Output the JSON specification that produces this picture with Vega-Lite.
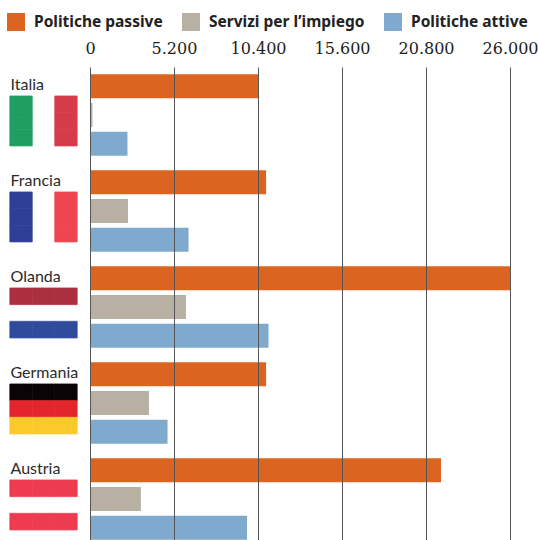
{
  "$schema": "https://vega.github.io/schema/vega-lite/v6.json",
  "autosize": "none",
  "padding": {"left": 90, "top": 60, "right": 28, "bottom": 0},
  "width": 420,
  "height": 480,
  "background": "white",
  "datasets": {
    "spesa": [
      {"paese": "Italia", "voce": "Politiche passive", "valore": 10400},
      {"paese": "Italia", "voce": "Servizi per l’impiego", "valore": 150},
      {"paese": "Italia", "voce": "Politiche attive", "valore": 2320},
      {"paese": "Francia", "voce": "Politiche passive", "valore": 10900},
      {"paese": "Francia", "voce": "Servizi per l’impiego", "valore": 2350},
      {"paese": "Francia", "voce": "Politiche attive", "valore": 6100},
      {"paese": "Olanda", "voce": "Politiche passive", "valore": 26030},
      {"paese": "Olanda", "voce": "Servizi per l’impiego", "valore": 5940},
      {"paese": "Olanda", "voce": "Politiche attive", "valore": 11050},
      {"paese": "Germania", "voce": "Politiche passive", "valore": 10900},
      {"paese": "Germania", "voce": "Servizi per l’impiego", "valore": 3650},
      {"paese": "Germania", "voce": "Politiche attive", "valore": 4800},
      {"paese": "Austria", "voce": "Politiche passive", "valore": 21730},
      {"paese": "Austria", "voce": "Servizi per l’impiego", "valore": 3150},
      {"paese": "Austria", "voce": "Politiche attive", "valore": 9720}
    ],
    "bandiere": [
      {"paese": "Italia", "colonna": "a", "fascia": "1", "tinta": "verde IT"},
      {"paese": "Italia", "colonna": "a", "fascia": "2", "tinta": "verde IT"},
      {"paese": "Italia", "colonna": "a", "fascia": "3", "tinta": "verde IT"},
      {"paese": "Italia", "colonna": "c", "fascia": "1", "tinta": "rosso IT"},
      {"paese": "Italia", "colonna": "c", "fascia": "2", "tinta": "rosso IT"},
      {"paese": "Italia", "colonna": "c", "fascia": "3", "tinta": "rosso IT"},
      {"paese": "Francia", "colonna": "a", "fascia": "1", "tinta": "blu FR"},
      {"paese": "Francia", "colonna": "a", "fascia": "2", "tinta": "blu FR"},
      {"paese": "Francia", "colonna": "a", "fascia": "3", "tinta": "blu FR"},
      {"paese": "Francia", "colonna": "c", "fascia": "1", "tinta": "rosso FR"},
      {"paese": "Francia", "colonna": "c", "fascia": "2", "tinta": "rosso FR"},
      {"paese": "Francia", "colonna": "c", "fascia": "3", "tinta": "rosso FR"},
      {"paese": "Olanda", "colonna": "a", "fascia": "1", "tinta": "rosso NL"},
      {"paese": "Olanda", "colonna": "b", "fascia": "1", "tinta": "rosso NL"},
      {"paese": "Olanda", "colonna": "c", "fascia": "1", "tinta": "rosso NL"},
      {"paese": "Olanda", "colonna": "a", "fascia": "3", "tinta": "blu NL"},
      {"paese": "Olanda", "colonna": "b", "fascia": "3", "tinta": "blu NL"},
      {"paese": "Olanda", "colonna": "c", "fascia": "3", "tinta": "blu NL"},
      {"paese": "Germania", "colonna": "a", "fascia": "1", "tinta": "nero DE"},
      {"paese": "Germania", "colonna": "b", "fascia": "1", "tinta": "nero DE"},
      {"paese": "Germania", "colonna": "c", "fascia": "1", "tinta": "nero DE"},
      {"paese": "Germania", "colonna": "a", "fascia": "2", "tinta": "rosso DE"},
      {"paese": "Germania", "colonna": "b", "fascia": "2", "tinta": "rosso DE"},
      {"paese": "Germania", "colonna": "c", "fascia": "2", "tinta": "rosso DE"},
      {"paese": "Germania", "colonna": "a", "fascia": "3", "tinta": "giallo DE"},
      {"paese": "Germania", "colonna": "b", "fascia": "3", "tinta": "giallo DE"},
      {"paese": "Germania", "colonna": "c", "fascia": "3", "tinta": "giallo DE"},
      {"paese": "Austria", "colonna": "a", "fascia": "1", "tinta": "rosso AT"},
      {"paese": "Austria", "colonna": "b", "fascia": "1", "tinta": "rosso AT"},
      {"paese": "Austria", "colonna": "c", "fascia": "1", "tinta": "rosso AT"},
      {"paese": "Austria", "colonna": "a", "fascia": "3", "tinta": "rosso AT"},
      {"paese": "Austria", "colonna": "b", "fascia": "3", "tinta": "rosso AT"},
      {"paese": "Austria", "colonna": "c", "fascia": "3", "tinta": "rosso AT"}
    ]
  },
  "layer": [
    {
      "data": {"name": "bandiere"},
      "mark": {"type": "bar", "clip": false, "strokeWidth": 0.7},
      "encoding": {
        "x": {
          "field": "colonna",
          "type": "nominal",
          "axis": null,
          "scale": {"domain": ["a", "b", "c"], "range": [-80.2, -12.8], "padding": 0}
        },
        "y": {
          "field": "paese",
          "type": "nominal",
          "sort": ["Italia", "Francia", "Olanda", "Germania", "Austria"],
          "scale": {"domain": ["Italia", "Francia", "Olanda", "Germania", "Austria"], "range": [7, 487], "padding": 0},
          "title": null,
          "axis": {
            "domain": false,
            "ticks": false,
            "orient": "left",
            "labelAlign": "left",
            "labelPadding": 80,
            "labelOffset": -30,
            "labelFont": "Lato",
            "labelFontSize": 16,
            "labelColor": "#2a2a2a"
          }
        },
        "yOffset": {
          "field": "fascia",
          "type": "nominal",
          "scale": {"domain": ["nome", "1", "2", "3", "spazio"], "paddingInner": 0, "paddingOuter": 0.38, "align": 0.97}
        },
        "color": {
          "field": "tinta",
          "type": "nominal",
          "legend": null,
          "scale": {
            "domain": ["verde IT", "rosso IT", "blu FR", "rosso FR", "rosso NL", "blu NL", "nero DE", "rosso DE", "giallo DE", "rosso AT"],
            "range": ["#1f9e62", "#d43c4b", "#2f3f96", "#ef4451", "#ab2f3e", "#2f4b9c", "#0a0406", "#e4262c", "#fcc92b", "#ee3b4f"]
          }
        },
        "stroke": {
          "field": "tinta",
          "type": "nominal",
          "legend": null,
          "scale": {
            "domain": ["verde IT", "rosso IT", "blu FR", "rosso FR", "rosso NL", "blu NL", "nero DE", "rosso DE", "giallo DE", "rosso AT"],
            "range": ["#1f9e62", "#d43c4b", "#2f3f96", "#ef4451", "#ab2f3e", "#2f4b9c", "#0a0406", "#e4262c", "#fcc92b", "#ee3b4f"]
          }
        }
      }
    },
    {
      "data": {"name": "spesa"},
      "mark": {"type": "bar", "clip": false},
      "encoding": {
        "x": {
          "field": "valore",
          "type": "quantitative",
          "title": null,
          "scale": {"domain": [0, 26000], "nice": false, "clamp": false},
          "axis": {
            "orient": "top",
            "values": [0, 5200, 10400, 15600, 20800, 26000],
            "labelExpr": "replace(format(datum.value, ','), ',', '.')",
            "domain": false,
            "ticks": false,
            "grid": true,
            "gridColor": "#555555",
            "gridWidth": 1,
            "gridOpacity": 1,
            "zindex": 1,
            "labelFont": "DejaVu Serif",
            "labelFontSize": 16,
            "labelColor": "#222222",
            "labelPadding": 4,
            "labelFlush": false,
            "labelOverlap": false
          }
        },
        "y": {
          "field": "paese",
          "type": "nominal",
          "sort": ["Italia", "Francia", "Olanda", "Germania", "Austria"],
          "scale": {"domain": ["Italia", "Francia", "Olanda", "Germania", "Austria"], "range": [7, 487], "padding": 0},
          "title": null
        },
        "yOffset": {
          "field": "voce",
          "type": "nominal",
          "sort": ["Politiche passive", "Servizi per l’impiego", "Politiche attive"],
          "scale": {"domain": ["Politiche passive", "Servizi per l’impiego", "Politiche attive"], "paddingInner": 0.163, "paddingOuter": 0.256}
        },
        "color": {
          "field": "voce",
          "type": "nominal",
          "title": null,
          "scale": {
            "domain": ["Politiche passive", "Servizi per l’impiego", "Politiche attive"],
            "range": ["#da6420", "#b8b0a2", "#7faacd"]
          },
          "legend": {
            "orient": "none",
            "legendX": -83,
            "legendY": -47,
            "direction": "horizontal",
            "columns": 3,
            "columnPadding": 19,
            "symbolType": "square",
            "symbolSize": 324,
            "symbolStrokeWidth": 0,
            "labelOffset": 9,
            "labelFont": "Noto Sans",
            "labelFontWeight": "bold",
            "labelFontSize": 15.5,
            "labelColor": "#222222",
            "labelLimit": 200
          }
        }
      }
    }
  ],
  "resolve": {
    "scale": {"x": "independent", "yOffset": "independent", "color": "independent", "stroke": "independent"},
    "axis": {"x": "independent"}
  },
  "config": {"view": {"stroke": null}}
}
